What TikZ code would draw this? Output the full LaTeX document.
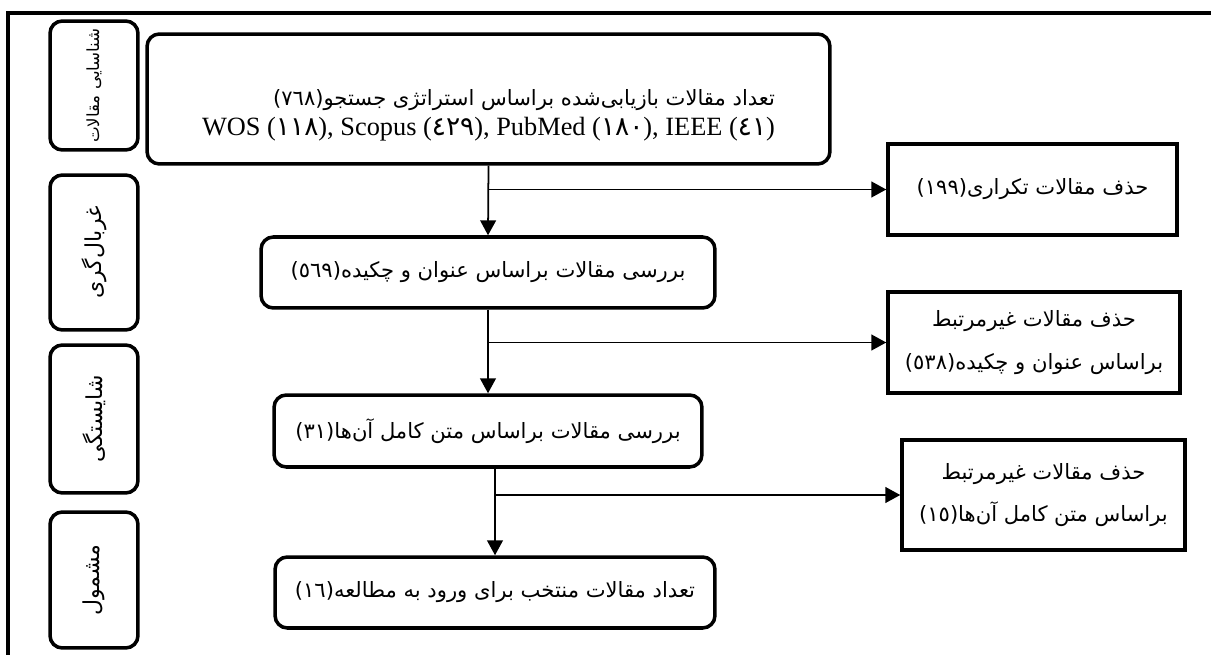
\documentclass[tikz,border=0pt]{standalone}
\usepackage{fontspec}
\setmainfont{Liberation Serif}
\newfontfamily\arabicfont[Script=Arabic]{DejaVu Sans}
\TeXXeTstate=1
\usetikzlibrary{arrows.meta}
\newcommand{\fatext}[1]{{\arabicfont\beginR #1\endR}}
\tikzstyle{phase} = [rectangle, rounded corners=7pt, draw=black, line width=2pt, minimum height=1.76cm, inner sep=0pt, text centered, rotate=90, font=\fontsize{12.5}{15}\selectfont]
\tikzstyle{process} = [rectangle, rounded corners=7pt, draw=black, line width=2pt, inner sep=0pt, text centered, fill=white]
\tikzstyle{removed} = [rectangle, draw=black, line width=2pt, inner sep=0pt, text centered, fill=white, align=center]
\tikzstyle{arrow} = [line width=1pt, -{Triangle[length=8.5pt, width=9pt]}]

\begin{document}
\begin{tikzpicture}[x=0.02cm, y=-0.02cm, font=\fontsize{12}{19}\selectfont]

    \useasboundingbox (0,0) rectangle (1211,655);
    \draw [line width=2pt] (8,13) rectangle (1240,680);

    % stages on the left
    \node (ident) [phase, minimum width=2.58cm, font=\fontsize{9.5}{12}\selectfont] at (94,85.5) {\fatext{شناسایی مقالات}};
    \node (screen) [phase, minimum width=3.1cm] at (94,252.5) {\fatext{غربال‌گری}};
    \node (elig) [phase, minimum width=2.96cm] at (94,419) {\fatext{شایستگی}};
    \node (incl) [phase, minimum width=2.72cm] at (94,580) {\fatext{مشمول}};

    % main column
    \node (found) [process, minimum width=13.66cm, minimum height=2.6cm, align=right] at (488.5,99) {\strut\\[-5pt]
        \fatext{تعداد مقالات بازیابی‌شده براساس استراتژی جستجو(٧٦٨)}\\[-2pt]
        {\fontsize{15}{18}\selectfont WOS ({\arabicfont ١١٨}), Scopus ({\arabicfont ٤٢٩}), PubMed ({\arabicfont ١٨٠}), IEEE ({\arabicfont ٤١})}};
    \node (title) [process, minimum width=9.08cm, minimum height=1.42cm] at (488,272.5) {\fatext{بررسی مقالات براساس عنوان و چکیده(٥٦٩)}};
    \node (fulltext) [process, minimum width=8.56cm, minimum height=1.44cm] at (488,431) {\fatext{بررسی مقالات براساس متن کامل آن‌ها(٣١)}};
    \node (final) [process, minimum width=8.8cm, minimum height=1.42cm] at (495,592.5) {\fatext{تعداد مقالات منتخب برای ورود به مطالعه(١٦)}};

    % excluded records
    \node (dup) [removed, minimum width=5.78cm, minimum height=1.82cm] at (1032.5,189.5) {\fatext{حذف مقالات تکراری(١٩٩)}};
    \node (irr1) [removed, minimum width=5.84cm, minimum height=2.02cm] at (1034,342.5) {\fatext{حذف مقالات غیرمرتبط}\\[5pt] \fatext{براساس عنوان و چکیده(٥٣٨)}};
    \node (irr2) [removed, minimum width=5.66cm, minimum height=2.2cm] at (1043.5,495) {\fatext{حذف مقالات غیرمرتبط}\\[5pt] \fatext{براساس متن کامل آن‌ها(١٥)}};

    \draw [arrow] (found.south) -- (title.north);
    \draw [arrow] (found.south |- dup.west) -- (dup.west);
    \draw [arrow] (title.south) -- (fulltext.north);
    \draw [arrow] (title.south |- irr1.west) -- (irr1.west);
    \draw [arrow] (fulltext.south -| final.north) -- (final.north);
    \draw [arrow] (final.north |- irr2.west) -- (irr2.west);
\end{tikzpicture}
\end{document}
